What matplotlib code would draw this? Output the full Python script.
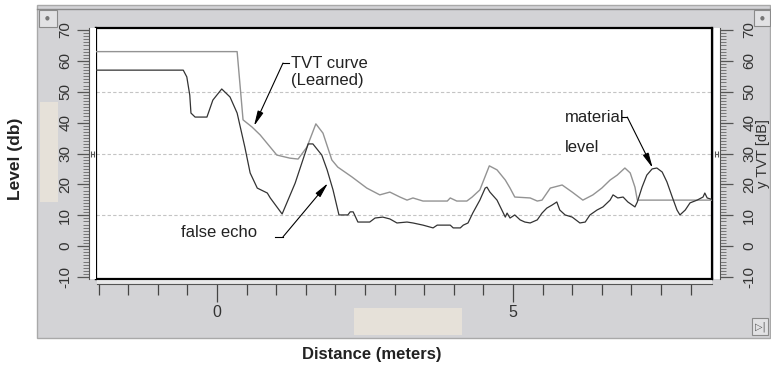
# Recreation of the TVT / echo profile screenshot
import matplotlib
matplotlib.use("Agg")
import matplotlib.pyplot as plt
from matplotlib.patches import Rectangle
from matplotlib.ticker import MultipleLocator, FixedLocator
import matplotlib.transforms as mtrans

plt.rcParams['font.family'] = ['Liberation Sans', 'DejaVu Sans']
plt.rcParams['axes.unicode_minus'] = False

# ============================================
# Data
# ============================================
tvt_x = [-2.05, 0.34, 0.44, 0.59, 0.73, 1.01, 1.23, 1.37, 1.52, 1.67, 1.79, 1.94,
         2.04, 2.28, 2.53, 2.75, 2.92, 3.09, 3.21, 3.31, 3.48, 3.89, 3.94, 4.05,
         4.22, 4.31, 4.44, 4.60, 4.73, 4.87, 4.95, 5.03, 5.29, 5.41, 5.49, 5.63,
         5.83, 6.00, 6.18, 6.35, 6.50, 6.64, 6.76, 6.89, 6.98, 7.06, 7.10, 8.40]
tvt_y = [63.0, 63.0, 40.9, 38.6, 36.0, 29.5, 28.5, 28.2, 32.1, 39.6, 36.6, 27.9,
         25.6, 22.4, 18.8, 16.6, 17.5, 15.9, 14.9, 15.6, 14.6, 14.6, 15.6, 14.6,
         14.6, 15.9, 18.2, 26.0, 24.7, 21.4, 18.8, 15.9, 15.6, 14.6, 14.9, 18.8,
         19.8, 17.5, 14.9, 16.6, 18.8, 21.4, 23.0, 25.3, 23.7, 19.1, 14.9, 14.9]

echo_x = [-2.05, -0.57, -0.51, -0.46, -0.44, -0.37, -0.17, -0.07, 0.08, 0.22,
          0.34, 0.47, 0.56, 0.68, 0.85, 0.90, 1.10, 1.32, 1.54, 1.62, 1.77, 1.86,
          1.96, 2.06, 2.21, 2.25, 2.30, 2.38, 2.58, 2.67, 2.80, 2.92, 3.04, 3.21,
          3.31, 3.48, 3.65, 3.72, 3.94, 3.99, 4.11, 4.16, 4.24, 4.32, 4.44, 4.53,
          4.56, 4.61, 4.73, 4.87, 4.90, 4.95, 5.03, 5.12, 5.20, 5.29, 5.41, 5.49,
          5.57, 5.66, 5.74, 5.79, 5.88, 6.00, 6.13, 6.22, 6.30, 6.42, 6.52, 6.64,
          6.69, 6.77, 6.86, 6.94, 7.06, 7.10, 7.18, 7.26, 7.35, 7.43, 7.52, 7.60,
          7.69, 7.77, 7.82, 7.91, 7.99, 8.11, 8.21, 8.24, 8.28, 8.40]
echo_y = [57.0, 57.0, 54.8, 48.9, 43.1, 41.8, 41.8, 47.3, 50.9, 48.3,
          43.1, 32.1, 23.7, 18.8, 17.2, 15.6, 10.4, 20.4, 33.1, 33.1, 29.5, 24.7,
          18.2, 10.1, 10.1, 11.1, 11.1, 7.8, 7.8, 9.1, 9.4, 8.8, 7.5, 7.8,
          7.5, 6.8, 5.9, 6.8, 6.8, 5.9, 5.9, 6.8, 7.5, 10.7, 14.9, 18.8,
          19.1, 17.5, 14.9, 9.4, 10.7, 9.1, 10.1, 8.5, 7.8, 7.5, 8.5, 10.7,
          12.3, 13.3, 14.3, 11.7, 10.1, 9.4, 7.5, 7.8, 10.1, 11.7, 12.7, 14.9,
          16.6, 15.6, 15.9, 14.3, 12.7, 14.3, 19.1, 23.0, 25.0, 25.3, 24.0, 20.8,
          15.9, 11.7, 10.1, 11.7, 14.0, 14.9, 15.9, 17.2, 15.6, 14.9]

grid_levels = [10, 30, 50]
y_ticks = [-10, 0, 10, 20, 30, 40, 50, 60, 70]
x_major = [0, 5]
x_labels = ["0", "5"]

# annotation anchors (data coords)
tvt_tip, tvt_corner = (0.625, 38.9), (1.115, 59.3)
echo_tip, echo_corner = (1.875, 20.4), (1.115, 3.0)
mat_tip, mat_corner = (7.36, 25.3), (6.93, 41.8)

# ============================================
# Figure / panel layout (pixel helpers)
# ============================================
W, H = 771, 369
fig = plt.figure(figsize=(W / 100, H / 100), dpi=100)
fig.patch.set_facecolor('white')


def box(x0, y0, x1, y1):
    return [x0 / W, 1 - y1 / H, (x1 - x0) / W, (y1 - y0) / H]


def frect(x0, y0, x1, y1, **kw):
    b = box(x0, y0, x1, y1)
    fig.add_artist(Rectangle((b[0], b[1]), b[2], b[3],
                             transform=fig.transFigure, **kw))


# gray window panel
frect(37, 5, 770, 338, fc='#d3d3d6', ec='#a9a9a9', lw=1.0, zorder=-3)
fig.add_artist(plt.Line2D([37 / W, 770 / W], [1 - 9 / H, 1 - 9 / H],
                          transform=fig.transFigure, color='#8a8a8a', lw=1.0,
                          zorder=-2))
# small window buttons
for bx0, by0, bx1, by1 in [(39, 10, 57, 27), (754, 10, 770, 26), (752, 318, 768, 335)]:
    frect(bx0, by0, bx1, by1, fc='#e2e2e4', ec='#8a8a8a', lw=0.8, zorder=-2)
for cx, cy in [(47, 18), (762, 18)]:
    fig.text(cx / W, 1 - cy / H, '●', fontsize=4, color='#777777',
             ha='center', va='center', family='DejaVu Sans')
fig.text(760 / W, 1 - 327 / H, '▷|', fontsize=7, color='#555555',
         ha='center', va='center', family='DejaVu Sans')
# beige scroll thumbs
frect(40, 102, 58, 202, fc='#e6e1d9', ec='none', zorder=-2)
frect(354, 308, 462, 335, fc='#e6e1d9', ec='none', zorder=-2)

# ============================================
# Main plot area
# ============================================
XL = ((96 - 217) / 59.2, (712 - 217) / 59.2)
YL = (-10.65, 70.65)

ax = fig.add_axes(box(96, 28, 712, 279))
ax.set_xlim(*XL)
ax.set_ylim(*YL)
ax.set_facecolor('white')
ax.set_xticks([])
ax.set_yticks([])
for s in ax.spines.values():
    s.set_color('black')
    s.set_linewidth(1.6)

for g in grid_levels:
    ax.axhline(g, color='#c4c4c4', lw=0.8, ls=(0, (3, 2)), zorder=1)

ax.plot(tvt_x, tvt_y, color='#939393', lw=1.0, zorder=3)
ax.plot(echo_x, echo_y, color='#333333', lw=0.9, zorder=4)

txt_kw = dict(fontsize=12, color='#222222', zorder=5,
              bbox=dict(fc='white', ec='none', pad=1.0))
ax.text(1.25, 56.4, "TVT curve\n(Learned)", ha='left', va='center',
        linespacing=1.15, **txt_kw)
ax.text(-0.60, 4.3, "false echo", ha='left', va='center', **txt_kw)
ax.text(5.87, 41.5, "material", ha='left', va='center', **txt_kw)
ax.text(5.87, 32.1, "level", ha='left', va='center', **txt_kw)

arrow_kw = dict(arrowstyle='-|>,head_length=0.9,head_width=0.18',
                color='black', lw=0.8, shrinkA=0, shrinkB=0)
for tip, corner, dx in [(tvt_tip, tvt_corner, 0.10),
                        (echo_tip, echo_corner, -0.13),
                        (mat_tip, mat_corner, -0.09)]:
    ax.annotate('', xy=tip, xytext=corner, arrowprops=arrow_kw, zorder=6)
    ax.plot([corner[0], corner[0] + dx], [corner[1], corner[1]],
            color='black', lw=0.8, zorder=6)

# ============================================
# Left ruler (Level)
# ============================================
axl = fig.add_axes(box(89, 28, 96, 279))
axl.set_ylim(*YL)
axl.set_xticks([])
axl.set_facecolor('white')
for k in ['top', 'right', 'bottom']:
    axl.spines[k].set_visible(False)
axl.spines['left'].set_color('#555555')
axl.yaxis.set_major_locator(FixedLocator(y_ticks))
axl.yaxis.set_minor_locator(MultipleLocator(1))
axl.tick_params(axis='y', which='major', direction='out', length=9, width=0.9,
                color='#555555', labelsize=11, labelcolor='#333333', pad=3)
axl.tick_params(axis='y', which='minor', direction='out', length=4, width=0.6,
                color='#666666')
for lab in axl.get_yticklabels():
    lab.set_rotation(90)
    lab.set_va('center')
blend = mtrans.blended_transform_factory(axl.transAxes, axl.transData)
axl.plot([0.35, 0.75], [30, 30], transform=blend, color='#555555', lw=0.8,
         marker='|', ms=4, mew=0.8, clip_on=False)

# ============================================
# Right ruler (y TVT [dB])
# ============================================
axr = fig.add_axes(box(714, 28, 720, 279))
axr.set_ylim(*YL)
axr.set_xticks([])
axr.set_facecolor('white')
for k in ['top', 'left', 'bottom']:
    axr.spines[k].set_visible(False)
axr.spines['right'].set_color('#555555')
axr.yaxis.tick_right()
axr.yaxis.set_label_position('right')
axr.yaxis.set_major_locator(FixedLocator(y_ticks))
axr.yaxis.set_minor_locator(MultipleLocator(1))
axr.tick_params(axis='y', which='major', direction='out', length=9, width=0.9,
                color='#555555', labelsize=11, labelcolor='#333333', pad=7)
axr.tick_params(axis='y', which='minor', direction='out', length=4, width=0.6,
                color='#666666')
for lab in axr.get_yticklabels():
    lab.set_rotation(90)
    lab.set_va('center')
axr.set_ylabel("y TVT [dB]", fontsize=10.5, color='#333333', rotation=90,
               labelpad=0)
blend_r = mtrans.blended_transform_factory(axr.transAxes, axr.transData)
axr.plot([0.2, 0.7], [30, 30], transform=blend_r, color='#555555', lw=0.8,
         marker='|', ms=4, mew=0.8, clip_on=False)

# ============================================
# Bottom ruler (Distance)
# ============================================
axb = fig.add_axes(box(97, 279, 712, 284))
axb.set_xlim((97 - 217) / 59.2, XL[1])
axb.set_yticks([])
axb.set_facecolor('#e9e9ea')
axb.spines['left'].set_visible(False)
axb.spines['right'].set_visible(False)
axb.spines['top'].set_color('black')
axb.spines['bottom'].set_color('#555555')
axb.xaxis.set_major_locator(FixedLocator(x_major))
axb.set_xticklabels(x_labels)
axb.xaxis.set_minor_locator(MultipleLocator(0.5))
axb.tick_params(axis='x', which='major', direction='out', length=13, width=0.9,
                color='#444444', labelsize=11.5, labelcolor='#333333', pad=2)
axb.tick_params(axis='x', which='minor', direction='out', length=8, width=0.9,
                color='#444444')

# ============================================
# Axis titles
# ============================================
fig.text(16 / W, 1 - 159 / H, "Level (db)", rotation=90, ha='center',
         va='center', fontsize=12.5, fontweight='bold', color='#222222')
fig.text(372 / W, 1 - 355 / H, "Distance (meters)", ha='center', va='center',
         fontsize=12, fontweight='bold', color='#222222')

fig.savefig("out.png", dpi=100)
